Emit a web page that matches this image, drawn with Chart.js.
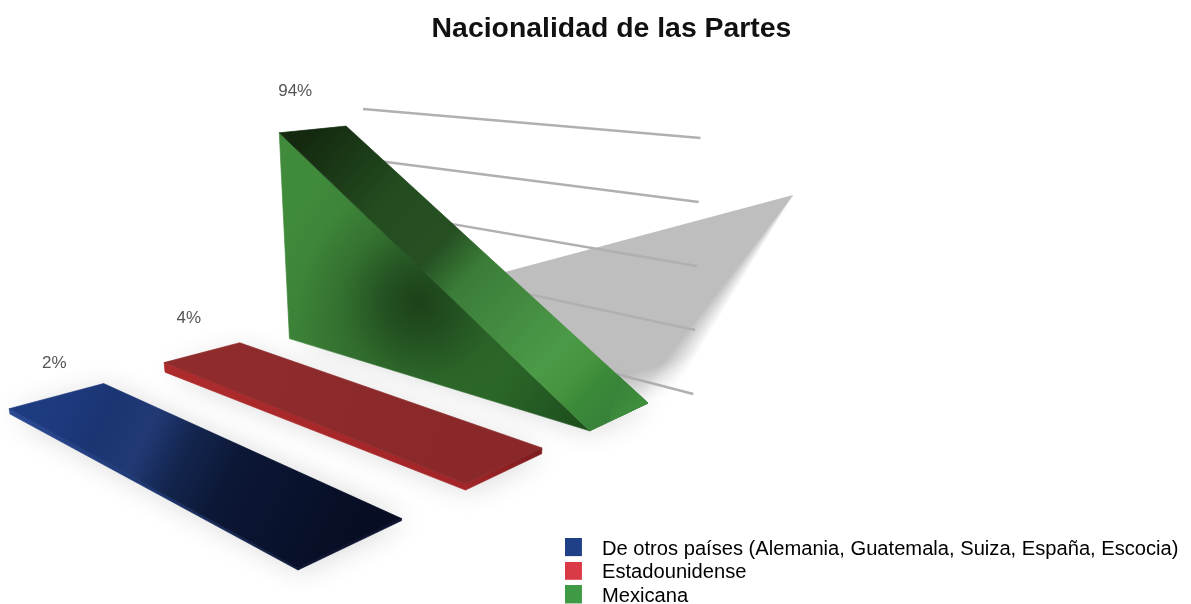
<!DOCTYPE html>
<html>
<head>
<meta charset="utf-8">
<title>Nacionalidad de las Partes</title>
<script src="https://cdn.jsdelivr.net/npm/chart.js@4"></script>
<style>
    html, body { margin: 0; padding: 0; background: #fff; overflow: hidden; }
    canvas { display: block; }
</style>
</head>
<body>
<canvas id="charts" width="1191" height="604"></canvas>
<script>
const categories = ["De otros países (Alemania, Guatemala, Suiza, España, Escocia)", "Estadounidense", "Mexicana"];
const values = [2, 4, 94];
// height left at the near end of each bar, the tall one tapers down to nothing
const frontValues = [0.6, 2, 0];
const legendColors = ["#1f3f87", "#d93a45", "#3e9a45"];

// camera: floor corners, vertical vanishing point and rise per percent
const floorQuad = [[10, 414], [351, 322], [648, 403], [298, 570]];
const verticalVanish = [415, 2874];
const risePerUnit = 0.001076;
// back wall: [left, right] ends of the top and bottom of the value axis
const wallTop = [[363, 109], [700.5, 138]];
const wallBottom = [[372, 360], [691.5, 458]];
const labelShift = [[-2, -33], [-13, -34], [-17.5, -38]];

const faceStyles = [
    {
        top: [[0, "#1f3b80"], [0.16, "#1b3573"], [0.3, "#213a75"], [0.42, "#14264f"], [0.58, "#0c1736"], [1, "#070e24"]],
        side: [[0, "#2a4a95"], [0.4, "#1f3a78"], [1, "#0c1838"]],
        front: [[0, "#0a1130"], [1, "#0a1130"]]
    },
    {
        top: [[0, "#902b2c"], [0.5, "#8c2a2b"], [1, "#8a2729"]],
        side: [[0, "#ad2b2d"], [1, "#a32527"]],
        front: [[0, "#a32527"], [1, "#7c1d1f"]]
    },
    {
        top: [[0, "#14290f"], [0.25, "#234d20"], [0.41, "#264f22"], [0.51, "#3a7d37"], [0.62, "#42883f"], [0.78, "#4b9a47"], [0.86, "#47933f"], [0.905, "#3b8a38"], [1, "#37803a"]],
        side: [[0, "#408a3b"], [0.3, "#387a34"], [0.7, "#2c6829"], [0.92, "#205320"], [1, "#1e4c1a"]],
        front: [[0, "#377f35"], [1, "#377f35"]]
    }
];

// square to quad homography
function makeFloor(q) {
    const sx = q[0][0] - q[1][0] + q[2][0] - q[3][0];
    const sy = q[0][1] - q[1][1] + q[2][1] - q[3][1];
    const dx1 = q[1][0] - q[2][0], dx2 = q[3][0] - q[2][0];
    const dy1 = q[1][1] - q[2][1], dy2 = q[3][1] - q[2][1];
    const det = dx1 * dy2 - dx2 * dy1;
    const g = (sx * dy2 - dx2 * sy) / det;
    const h = (dx1 * sy - sx * dy1) / det;
    return {
        a: q[1][0] - q[0][0] + g * q[1][0], b: q[3][0] - q[0][0] + h * q[3][0], c: q[0][0],
        d: q[1][1] - q[0][1] + g * q[1][1], e: q[3][1] - q[0][1] + h * q[3][1], f: q[0][1],
        g: g, h: h
    };
}
const floor = makeFloor(floorQuad);

function project(u, v, val) {
    const w = floor.g * u + floor.h * v + 1;
    const x = (floor.a * u + floor.b * v + floor.c) / w;
    const y = (floor.d * u + floor.e * v + floor.f) / w;
    const k = risePerUnit * val / w;
    return [x + (x - verticalVanish[0]) * k, y + (y - verticalVanish[1]) * k];
}

function lerp(p, q, t) {
    return [p[0] + (q[0] - p[0]) * t, p[1] + (q[1] - p[1]) * t];
}

function polygon(ctx, pts) {
    ctx.beginPath();
    pts.forEach((p, i) => i ? ctx.lineTo(p[0], p[1]) : ctx.moveTo(p[0], p[1]));
    ctx.closePath();
}

function gradient(ctx, from, to, stops) {
    const g = ctx.createLinearGradient(from[0], from[1], to[0], to[1]);
    stops.forEach(s => g.addColorStop(s[0], s[1]));
    return g;
}

// fill plus a hairline of the same paint, closes the seams between faces
function paintFace(ctx, pts, paint) {
    ctx.fillStyle = paint;
    ctx.strokeStyle = paint;
    ctx.lineWidth = 0.7;
    polygon(ctx, pts);
    ctx.fill();
    ctx.stroke();
}

// shadow the tall bar throws behind itself, soft on its far side
function drawCastShadow(ctx, bar) {
    const apex = [bar.backRightTop[0] + 447, bar.backRightTop[1] + 69];
    const toRad = Math.PI / 180;
    const fan = ctx.createConicGradient(118 * toRad, apex[0], apex[1]);
    fan.addColorStop(0, "rgba(190,190,190,0)");
    fan.addColorStop(3 / 360, "rgba(190,190,190,0)");
    fan.addColorStop(10 / 360, "rgba(190,190,190,1)");
    fan.addColorStop(1, "rgba(190,190,190,1)");
    ctx.save();
    ctx.fillStyle = fan;
    polygon(ctx, [apex, [430, 292], [590, 430], [661, 436]]);
    ctx.fill();
    // lower rim fades out to the page
    ctx.fillStyle = gradient(ctx, [654, 366], [663, 398], [[0, "rgba(255,255,255,0)"], [1, "rgba(255,255,255,1)"]]);
    polygon(ctx, [[590, 330], [800, 330], [800, 445], [590, 445]]);
    ctx.fill();
    ctx.restore();
}

function drawWall(ctx, yScale) {
    ctx.save();
    ctx.strokeStyle = "#b0b0b0";
    ctx.lineWidth = 2.4;
    yScale.ticks.forEach(tick => {
        if (tick.value === 0) return;
        const t = (yScale.bottom - yScale.getPixelForValue(tick.value)) / (yScale.bottom - yScale.top);
        const left = lerp(wallBottom[0], wallTop[0], t);
        const right = lerp(wallBottom[1], wallTop[1], t);
        ctx.beginPath();
        ctx.moveTo(left[0], left[1]);
        ctx.lineTo(right[0], right[1]);
        ctx.stroke();
    });
    ctx.restore();
}

// faint haze on the floor around a bar
function drawFloorHaze(ctx, bar) {
    ctx.save();
    ctx.shadowColor = "rgba(0,0,0,0.16)";
    ctx.shadowBlur = 30;
    ctx.shadowOffsetX = 3;
    ctx.shadowOffsetY = 0;
    ctx.fillStyle = "#fff";
    polygon(ctx, [bar.backLeft, bar.backRight, bar.frontRight, bar.frontLeft]);
    ctx.fill();
    ctx.restore();
}

function drawBar(ctx, bar, style) {
    const backMid = lerp(bar.backLeftTop, bar.backRightTop, 0.5);
    const frontMid = lerp(bar.frontLeftTop, bar.frontRightTop, 0.5);
    const sideFrom = lerp(bar.backLeftTop, bar.backLeft, 0.5);

    paintFace(ctx, [bar.backLeftTop, bar.backLeft, bar.frontLeft, bar.frontLeftTop],
        gradient(ctx, sideFrom, bar.frontLeft, style.side));
    paintFace(ctx, [bar.frontLeftTop, bar.frontLeft, bar.frontRight, bar.frontRightTop],
        gradient(ctx, bar.frontLeft, bar.frontRight, style.front));
    paintFace(ctx, [bar.backLeftTop, bar.backRightTop, bar.frontRightTop, bar.frontLeftTop],
        gradient(ctx, backMid, frontMid, style.top));
}

// dark pool on the flank and a small facet at the sharp end of a tapered bar
function drawTaperDetails(ctx, bar) {
    const flank = [bar.backLeftTop, bar.backLeft, bar.frontLeft];
    const sideFrom = lerp(bar.backLeftTop, bar.backLeft, 0.5);
    const pool = lerp(sideFrom, bar.frontLeft, 0.44);
    const dark = ctx.createRadialGradient(pool[0], pool[1] - 20, 0, pool[0], pool[1] - 20, 120);
    dark.addColorStop(0, "rgba(26,62,24,0.95)");
    dark.addColorStop(0.3, "rgba(26,62,24,0.65)");
    dark.addColorStop(0.65, "rgba(26,62,24,0.2)");
    dark.addColorStop(1, "rgba(26,62,24,0)");
    ctx.save();
    polygon(ctx, flank);
    ctx.clip();
    ctx.fillStyle = dark;
    ctx.fillRect(pool[0] - 130, pool[1] - 150, 260, 260);
    ctx.restore();

    const a = lerp(bar.backRightTop, bar.frontRightTop, 0.9);
    const c = lerp(bar.frontLeftTop, bar.frontRightTop, 0.35);
    paintFace(ctx, [a, bar.frontRightTop, c], gradient(ctx, a, bar.frontRightTop, [[0, "#39823a"], [1, "#3f8f3c"]]));
}

const bars3d = {
    id: "bars3d",
    beforeDatasetsDraw(chart) {
        const ctx = chart.ctx;
        const yScale = chart.scales.y;
        const items = chart.getDatasetMeta(0).data;
        const left = items[0].x - items[0].width / 2;
        const right = items[items.length - 1].x + items[items.length - 1].width / 2;
        const toU = px => (px - left) / (right - left);

        const bars = items.map((item, i) => {
            const u0 = toU(item.x - item.width / 2);
            const u1 = toU(item.x + item.width / 2);
            const back = yScale.getValueForPixel(item.y);
            const front = frontValues[i];
            return {
                backLeft: project(u0, 0, 0), backRight: project(u1, 0, 0),
                frontLeft: project(u0, 1, 0), frontRight: project(u1, 1, 0),
                backLeftTop: project(u0, 0, back), backRightTop: project(u1, 0, back),
                frontLeftTop: project(u0, 1, front), frontRightTop: project(u1, 1, front)
            };
        });

        drawCastShadow(ctx, bars[2]);
        drawWall(ctx, yScale);
        bars.forEach(bar => drawFloorHaze(ctx, bar));
        bars.forEach((bar, i) => {
            drawBar(ctx, bar, faceStyles[i]);
            if (frontValues[i] === 0) drawTaperDetails(ctx, bar);
        });

        ctx.save();
        ctx.fillStyle = "#555";
        ctx.font = "17px 'Liberation Sans'";
        ctx.textAlign = "center";
        ctx.textBaseline = "middle";
        bars.forEach((bar, i) => {
            const mid = lerp(bar.backLeftTop, bar.backRightTop, 0.5);
            ctx.fillText(values[i] + "%", mid[0] + labelShift[i][0], mid[1] + labelShift[i][1]);
        });
        ctx.restore();
        return false;
    }
};

// legend swatch with room after it, so the text sits further from the box
function swatch(color) {
    const c = document.createElement("canvas");
    c.width = 27;
    c.height = 22;
    const g = c.getContext("2d");
    g.fillStyle = color;
    g.fillRect(0, 0, 17, 18);
    return c;
}

new Chart(document.getElementById("charts"), {
    type: "bar",
    plugins: [bars3d],
    data: {
        labels: categories,
        datasets: [{
            data: values,
            backgroundColor: legendColors,
            barPercentage: 0.58,
            categoryPercentage: 1
        }]
    },
    options: {
        responsive: false,
        animation: false,
        layout: { padding: { left: 34.5, right: 2.5, top: 0, bottom: -6 } },
        scales: {
            x: { display: false },
            y: { display: false, min: 0, max: 100, ticks: { stepSize: 20 } }
        },
        plugins: {
            tooltip: { enabled: false },
            title: {
                display: true,
                text: "Nacionalidad de las Partes",
                color: "#111",
                font: { family: "'Liberation Sans'", size: 28.4, weight: "bold" },
                padding: { top: 12, bottom: 10 }
            },
            legend: {
                display: true,
                position: "right",
                align: "end",
                maxWidth: 700,
                labels: {
                    usePointStyle: true,
                    pointStyleWidth: 27,
                    boxHeight: 18,
                    padding: 3.5,
                    color: "#222",
                    font: { family: "'Liberation Sans'", size: 20.15 },
                    generateLabels: () => categories.map((name, i) => ({
                        text: name,
                        pointStyle: swatch(legendColors[i]),
                        fillStyle: legendColors[i],
                        strokeStyle: legendColors[i],
                        lineWidth: 0,
                        index: i
                    }))
                }
            }
        }
    }
});
</script>
</body>
</html>
